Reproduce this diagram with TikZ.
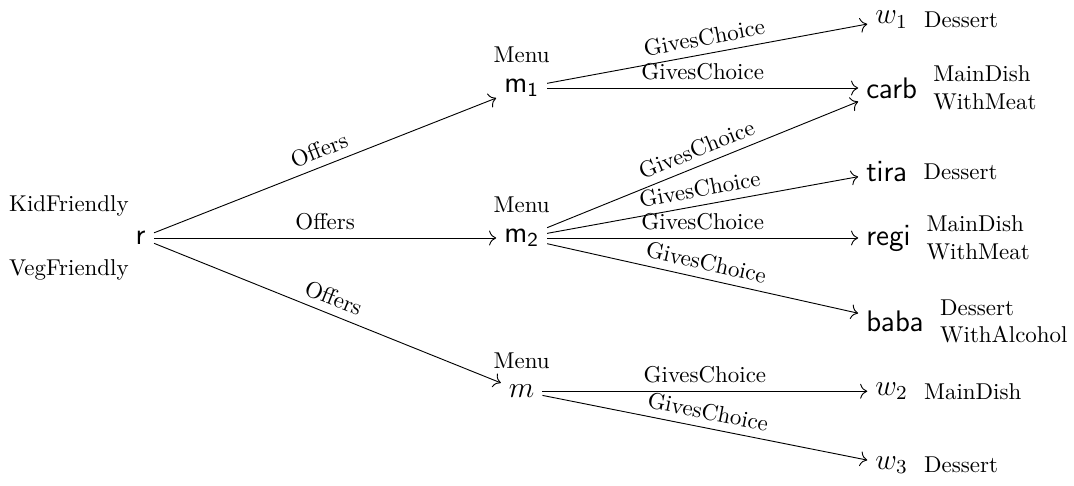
\documentclass[tikz,border=0pt]{standalone}
\usepackage{graphicx}
\usepackage{amsmath}
\usepackage{amssymb}
\usetikzlibrary{arrows.meta}
\usetikzlibrary{positioning}
\tikzset{>={To[scale=1.25]}}
\tikzset{lbl/.style = {above, sloped, pos = 0.5}}
\tikzset{ind/.style = {anchor = west}}
\newcommand{\obj}[1]{\scalebox{1.08}{\large $#1$}}

\begin{document}
\begin{tikzpicture}
    \useasboundingbox (0, 0) rectangle (16.47, 7.45);

    \node (r) at (2.16, 3.8) [label = {[xshift = 4pt]above left:KidFriendly}, label = {[xshift = 4pt]below left:VegFriendly}] {\obj{\mathsf{r}}};

    \node (m1) at (8.0, 6.1) [label = above:Menu] {\obj{\mathsf{m_1}}};
    \node (m2) at (8.0, 3.8) [label = above:Menu] {\obj{\mathsf{m_2}}};
    \node (m) at (8.0, 1.45) [label = above:Menu] {\obj{m}};

    \node (w1) at (13.3, 7.15) [ind, label = right:Dessert] {\obj{w_1}};
    \node (carb) at (13.16, 6.1) [ind, label = {[align = left]right:MainDish\\WithMeat}] {\obj{\mathsf{carb}}};
    \node (tira) at (13.16, 4.82) [ind, label = right:Dessert] {\obj{\mathsf{tira}}};
    \node (regi) at (13.16, 3.8) [ind, label = {[align = left]right:MainDish\\WithMeat}] {\obj{\mathsf{regi}}};
    \node (baba) at (13.16, 2.52) [ind, label = {[align = left]right:Dessert\\WithAlcohol}] {\obj{\mathsf{baba}}};
    \node (w2) at (13.3, 1.45) [ind, label = right:MainDish] {\obj{w_2}};
    \node (w3) at (13.3, 0.32) [ind, label = right:Dessert] {\obj{w_3}};

    \draw [->] (r) -- (m1) node [lbl] {Offers};
    \draw [->] (r) -- (m2) node [lbl] {Offers};
    \draw [->] (r) -- (m) node [lbl] {Offers};

    \draw [->] (m1) -- (w1) node [lbl] {GivesChoice};
    \draw [->] (m1) -- (carb) node [lbl] {GivesChoice};
    \foreach \t in {carb, tira, regi, baba} {
      \draw [->] (m2) -- (\t) node [lbl] {GivesChoice};
    }
    \draw [->] (m) -- (w2) node [lbl] {GivesChoice};
    \draw [->] (m) -- (w3) node [lbl] {GivesChoice};
\end{tikzpicture}
\end{document}
